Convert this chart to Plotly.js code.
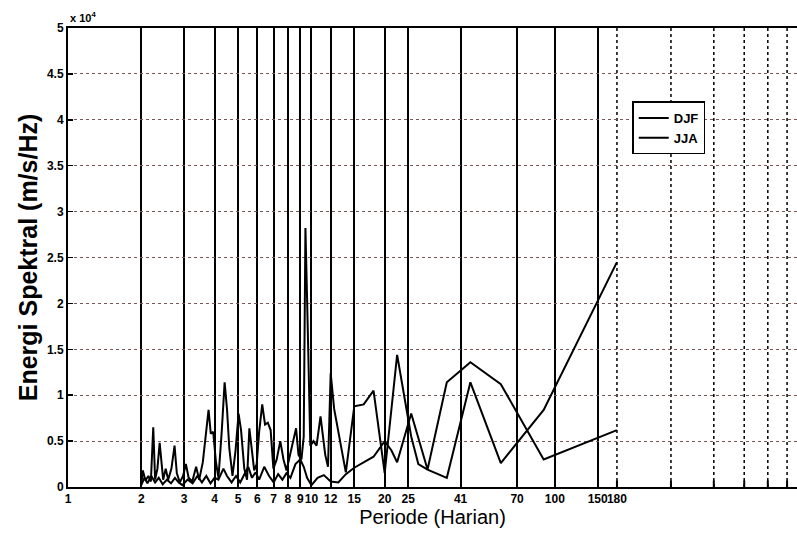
<!DOCTYPE html>
<html>
<head>
<meta charset="utf-8">
<script src="https://cdn.plot.ly/plotly-3.0.1.min.js"></script>
<style>html,body{margin:0;padding:0;background:#fff;}#chart{width:797px;height:536px;}</style>
</head>
<body>
<div id="chart"></div>
<script>
// Period (days) and spectral energy (x 10^4)
const djfPeriod = [2.0,2.03,2.08,2.14,2.19,2.24,2.28,2.33,2.38,2.42,2.46,2.52,2.58,2.66,2.74,2.8,2.88,2.97,3.05,3.13,3.24,3.36,3.46,3.58,3.68,3.78,3.86,3.95,4.05,4.15,4.28,4.4,4.5,4.6,4.74,4.88,5.02,5.14,5.3,5.44,5.56,5.68,5.82,5.96,6.1,6.28,6.45,6.62,6.8,6.98,7.2,7.45,7.68,7.9,8.15,8.4,8.65,8.85,9.1,9.3,9.45,9.6,9.75,9.9,10.2,10.5,10.9,11.4,11.7,12.0,12.4,13.85,15,16.4,18,20,22.5,25.7,27.5,30,36,45,60,90,180];
const djfValue  = [0.03,0.18,0.07,0.12,0.06,0.65,0.08,0.2,0.48,0.3,0.08,0.2,0.08,0.2,0.45,0.15,0.05,0.12,0.25,0.1,0.06,0.22,0.08,0.27,0.6,0.84,0.58,0.6,0.28,0.1,0.6,1.14,0.85,0.42,0.12,0.4,0.8,0.62,0.2,0.08,0.64,0.45,0.18,0.25,0.6,0.9,0.68,0.7,0.62,0.2,0.3,0.5,0.3,0.18,0.35,0.5,0.64,0.35,0.3,0.55,2.82,2.05,1.3,0.45,0.5,0.45,0.77,0.35,0.22,1.24,0.85,0.16,0.88,0.9,1.05,0.15,1.44,0.55,0.25,0.19,0.1,1.14,0.26,0.84,2.45];

const jjaPeriod = [2.0,2.06,2.12,2.2,2.28,2.36,2.45,2.55,2.65,2.75,2.85,2.95,3.1,3.25,3.4,3.55,3.7,3.85,4.0,4.15,4.35,4.5,4.7,4.9,5.1,5.3,5.5,5.7,5.9,6.1,6.4,6.7,7.0,7.3,7.6,7.9,8.2,8.6,9.0,9.3,9.6,10.0,10.6,11.25,12.0,12.9,13.85,15,16.4,18,20,21.3,22.5,25.7,30,36,45,60,90,180];
const jjaValue  = [0.02,0.1,0.04,0.12,0.05,0.1,0.03,0.08,0.04,0.1,0.05,0.02,0.08,0.04,0.12,0.05,0.12,0.04,0.1,0.08,0.2,0.12,0.05,0.12,0.05,0.14,0.22,0.1,0.16,0.08,0.22,0.12,0.05,0.14,0.08,0.15,0.1,0.25,0.3,0.22,0.1,0.02,0.1,0.13,0.06,0.05,0.14,0.21,0.27,0.33,0.5,0.4,0.27,0.8,0.19,1.14,1.36,1.12,0.3,0.62];

const seriesNames = ['DJF','JJA'];

// Axis ticks
const labelledTicks = [1,2,3,4,5,6,7,8,9,10,12,15,20,25,41,70,100,150,180];
const solidLineTicks = [2,3,4,5,6,7,8,9,10,12,15,20,25,41,70,100,150];
const dottedLineTicks = [180,300,450,600,750,900];
const yTicks = [0,0.5,1,1.5,2,2.5,3,3.5,4,4.5,5];
const yTickText = ['0','0.5','1','1.5','2','2.5','3','3.5','4','4.5','5'];

const narrow = '"Liberation Sans Narrow", "Arial Narrow", "Liberation Sans", Arial, sans-serif';
const tickFont = {family: narrow, size: 12, color:'#000', weight:'bold'};

const traces = [
  {x: djfPeriod, y: djfValue, name: seriesNames[0], type:'scatter', mode:'lines', line:{color:'#000', width:2}},
  {x: jjaPeriod, y: jjaValue, name: seriesNames[1], type:'scatter', mode:'lines', line:{color:'#000', width:2}}
];

// dotted vertical grid lines (and their inside tick marks) beyond 150 days
const shapes = [];
dottedLineTicks.forEach(function (p) {
  shapes.push({type: 'line', xref: 'x', yref: 'paper', x0: p, x1: p, y0: 0, y1: 1, layer: 'below',
               line: {color: '#000', width: 1.5, dash: 'dot'}});
  shapes.push({type: 'line', xref: 'x', yref: 'paper', x0: p, x1: p, y0: 0, y1: 0.014, layer: 'above',
               line: {color: '#000', width: 2}});
});

const layout = {
  width: 797, height: 536,
  margin: {l: 68, r: 0, t: 28, b: 49},
  paper_bgcolor: '#fff', plot_bgcolor: '#fff',
  showlegend: true,
  legend: {x: 0.774, y: 0.84, xanchor: 'left', yanchor: 'top', bgcolor: '#fff', bordercolor: '#000', borderwidth: 1.5,
           font: {family: narrow, size: 13, color: '#000', weight: 'bold'}, tracegroupgap: 2},
  shapes: shapes,
  xaxis: {
    type: 'log', range: [0, 2.995], autorange: false,
    tickmode: 'array', tickvals: labelledTicks, ticktext: labelledTicks.map(String), tickangle: 0,
    tickfont: tickFont, ticks: 'inside', ticklen: 5, tickcolor: '#000', tickwidth: 1.5,
    showgrid: false,
    minor: {tickmode: 'array', tickvals: solidLineTicks, showgrid: true, gridcolor: '#000', gridwidth: 2, griddash: 'solid', ticks: ''},
    showline: true, linecolor: '#000', linewidth: 2, mirror: true,
    zeroline: false,
    title: {text: 'Periode (Harian)', font: {family: 'Liberation Sans, Arial, sans-serif', size: 20, color: '#000'}, standoff: 5},
    automargin: false
  },
  yaxis: {
    range: [0, 5], autorange: false,
    tickmode: 'array', tickvals: yTicks, ticktext: yTickText,
    tickfont: tickFont, ticks: 'inside', ticklen: 5, tickcolor: '#000', tickwidth: 1.5,
    showgrid: true, gridcolor: '#7a5656', griddash: 'dot', gridwidth: 1,
    showline: true, linecolor: '#000', linewidth: 2, mirror: false,
    zeroline: false,
    title: {text: 'Energi Spektral (m/s/Hz)', font: {family: 'Liberation Sans, Arial, sans-serif', size: 25, color: '#000', weight: 'bold'}, standoff: 2},
    automargin: false
  },
  annotations: [
    {xref: 'paper', yref: 'paper', x: 0.0, y: 1.0, xanchor: 'left', yanchor: 'bottom', yshift: 2, showarrow: false,
     text: 'x 10<sup>4</sup>', font: {family: narrow, size: 11, color: '#000', weight: 'bold'}}
  ]
};

Plotly.newPlot('chart', traces, layout, {displayModeBar: false, staticPlot: true});
</script>
</body>
</html>
